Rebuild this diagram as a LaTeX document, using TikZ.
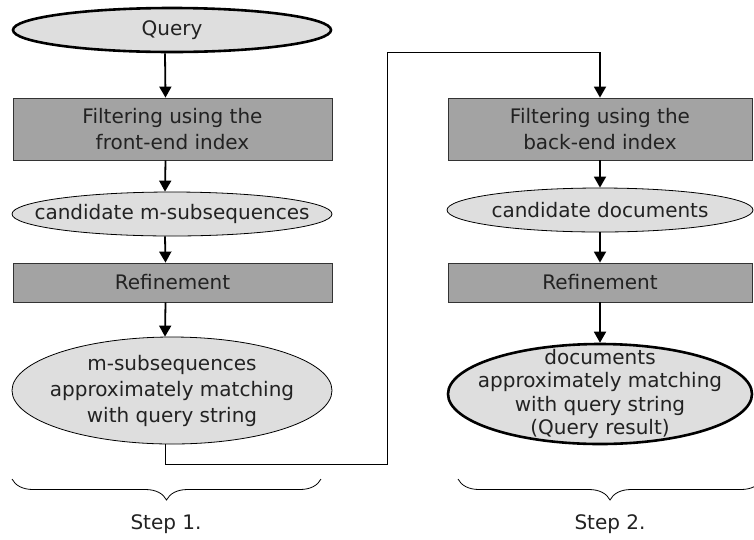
\documentclass[tikz,border=0pt]{standalone}
\usepackage{fontspec}
\setmainfont{DejaVu Sans}
\usetikzlibrary{shapes.geometric,arrows.meta,decorations.pathreplacing}
\definecolor{ovalgray}{HTML}{DEDEDE}
\definecolor{boxgray}{HTML}{A3A3A3}
\definecolor{inkgray}{HTML}{222222}

\begin{document}
\begin{tikzpicture}[x=1pt,y=-1pt]
      \tikzstyle{every node}=[font=\fontsize{20}{26}\selectfont, text=inkgray, align=center, inner sep=0pt]
      \tikzstyle{oval}=[ellipse, draw, fill=ovalgray, line width=0.8pt, inner sep=-40pt]
      \tikzstyle{bold oval}=[oval, line width=2.6pt]
      \tikzstyle{procbox}=[rectangle, draw=black!80, fill=boxgray, line width=0.8pt]
      \tikzstyle{arr}=[line width=1.8pt, -{Triangle[length=11pt,width=12pt]}]
      \tikzstyle{link}=[line width=0.9pt]
      \tikzstyle{stepbrace}=[decorate, decoration={brace, mirror, amplitude=21pt}, line width=0.8pt]
      \clip (0,0) rectangle (754,539);
      % step 1
      \node[bold oval, minimum width=318, minimum height=44] (query) at (172,30) {Query};
      \node[procbox, minimum width=319, minimum height=62] (filt1) at (172.5,129) {Filtering using the\\front-end index};
      \node[oval, minimum width=320, minimum height=44] (cand1) at (172,214) {candidate m-subsequences};
      \node[procbox, minimum width=319, minimum height=39] (ref1) at (172.5,282.5) {Refinement};
      \node[oval, minimum width=320, minimum height=107] (res1) at (172,390.5) {m-subsequences\\approximately matching\\with query string};
      % step 2
      \node[procbox, minimum width=304, minimum height=62] (filt2) at (600,129) {Filtering using the\\back-end index};
      \node[oval, minimum width=306, minimum height=44] (cand2) at (600,210) {candidate documents};
      \node[procbox, minimum width=304, minimum height=39] (ref2) at (600,282.5) {Refinement};
      \node[bold oval, minimum width=304, minimum height=100, font=\fontsize{20}{23.5}\selectfont] (res2) at (600,394) {documents\\approximately matching\\with query string\\(Query result)};
      % arrows
      \draw[arr] ([xshift=-7pt]query.south) -- ([xshift=-7pt]filt1.north);
      \draw[arr] ([xshift=-7pt]filt1.south) -- ([xshift=-7pt]cand1.north);
      \draw[arr] ([xshift=-7pt]cand1.south) -- ([xshift=-7pt]ref1.north);
      \draw[arr] ([xshift=-7pt]ref1.south) -- ([xshift=-7pt]res1.north);
      \draw[arr] (filt2.south) -- (cand2.north);
      \draw[arr] (cand2.south) -- (ref2.north);
      \draw[arr] (ref2.south) -- (res2.north);
      % link between the steps
      \coordinate (low) at (387,464);
      \coordinate (high) at (600,52);
      \draw[link] ([xshift=-7pt]res1.south) |- (low) |- (high);
      \draw[arr] (high) -- (filt2.north);
      % braces
      \coordinate (b1l) at (12,479);
      \coordinate (b1r) at (321,479);
      \coordinate (b2l) at (458,479);
      \coordinate (b2r) at (762,479);
      \draw[stepbrace] (b1l) -- (b1r);
      \draw[stepbrace] (b2l) -- (b2r);
      \node (step1) at (166,524) {Step 1.};
      \node (step2) at (610,524) {Step 2.};
\end{tikzpicture}
\end{document}
